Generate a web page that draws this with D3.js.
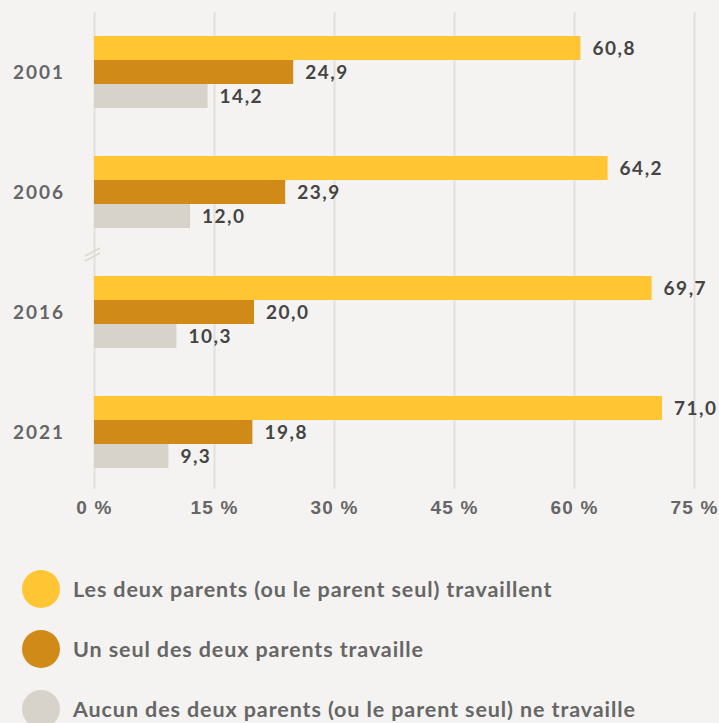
<!DOCTYPE html>
<html>
<head>
<meta charset="utf-8">
<script src="https://cdn.jsdelivr.net/npm/d3@7"></script>
<style>
  body { margin: 0; background: #f4f3f1; }
  svg { display: block; font-family: Lato, "Open Sans", sans-serif; }
  .grid line { stroke: #e4e0da; stroke-width: 2; }
  .grid path { display: none; }
  .axis path, .axis line { display: none; }
  .axis text { fill: #666; font-size: 19px; font-weight: 700; letter-spacing: 1.2px; }
  .year { fill: #666; font-size: 19px; font-weight: 700; letter-spacing: 2px; }
  .value { fill: #444; font-size: 19px; font-weight: 700; letter-spacing: 1.5px; }
  .legend-label { fill: #666; font-size: 21.5px; font-weight: 700; letter-spacing: 0.9px; }
</style>
</head>
<body>
<div class="container"></div>
<script>
const years = ["2001", "2006", "2016", "2021"];
const seriesNames = [
  "Les deux parents (ou le parent seul) travaillent",
  "Un seul des deux parents travaille",
  "Aucun des deux parents (ou le parent seul) ne travaille"
];
const seriesColors = ["#ffc533", "#d08a17", "#d8d3ca"];
const bothWork = [60.8, 64.2, 69.7, 71.0];
const oneWorks = [24.9, 23.9, 20.0, 19.8];
const noneWork = [14.2, 12.0, 10.3, 9.3];
const xTicks = [0, 15, 30, 45, 60, 75];

const seriesValues = [bothWork, oneWorks, noneWork];
const width = 719, height = 723;
const plotLeft = 94, plotRight = 694, plotTop = 12, plotBottom = 492;

const svg = d3.select(".container")
              .append("svg")
              .attr("width", width)
              .attr("height", height);

const x = d3.scaleLinear()
            .domain([0, 75])
            .range([plotLeft, plotRight]);

const y = d3.scaleBand()
            .domain(years)
            .range([plotTop, plotBottom])
            .paddingInner(0.4)
            .paddingOuter(0.2);

const ySub = d3.scaleBand()
               .domain(d3.range(seriesNames.length))
               .range([0, y.bandwidth()]);

// vertical gridlines
svg.append("g")
   .attr("class", "grid")
   .attr("transform", `translate(0,${plotTop})`)
   .call(d3.axisBottom(x)
           .tickValues(xTicks)
           .tickSize(plotBottom - plotTop - 3)
           .tickFormat(""));

// bars
const groups = svg.selectAll(".year-group")
                  .data(years)
                  .join("g")
                  .attr("class", "year-group")
                  .attr("transform", d => `translate(0,${y(d)})`);

groups.selectAll("rect")
      .data((d, i) => seriesValues.map((vals, s) => ({s, v: vals[i]})))
      .join("rect")
      .attr("x", x(0))
      .attr("y", d => ySub(d.s))
      .attr("width", d => x(d.v) - x(0))
      .attr("height", ySub.bandwidth())
      .attr("fill", d => seriesColors[d.s]);

groups.selectAll(".value")
      .data((d, i) => seriesValues.map((vals, s) => ({s, v: vals[i]})))
      .join("text")
      .attr("class", "value")
      .attr("x", d => x(d.v) + 12)
      .attr("y", d => ySub(d.s) + ySub.bandwidth() / 2)
      .attr("dy", "0.35em")
      .text(d => d.v.toFixed(1).replace(".", ","));

groups.append("text")
      .attr("class", "year")
      .attr("x", 65)
      .attr("y", y.bandwidth() / 2)
      .attr("dy", "0.35em")
      .attr("text-anchor", "end")
      .text(d => d);

// axis break mark between 2006 and 2016
const breakY = (y("2006") + y.bandwidth() + y("2016")) / 2 - 2;
[0, 5].forEach(off => {
  svg.append("line")
     .attr("x1", x(0) - 9)
     .attr("y1", breakY + 6 + off)
     .attr("x2", x(0) + 6)
     .attr("y2", breakY - 2 + off)
     .attr("stroke", "#ddd8d0")
     .attr("stroke-width", 1.5);
});

// x axis labels
svg.append("g")
   .attr("class", "axis")
   .attr("transform", `translate(0,${plotBottom + 15})`)
   .call(d3.axisBottom(x)
           .tickValues(xTicks)
           .tickSize(0)
           .tickPadding(0)
           .tickFormat(d => d + " %"))
   .selectAll("text")
   .attr("dy", "0.35em");

// legend
const legend = svg.selectAll(".legend")
                  .data(seriesNames)
                  .join("g")
                  .attr("class", "legend")
                  .attr("transform", (d, i) => `translate(41,${589 + i * 60})`);

legend.append("circle")
      .attr("r", 19)
      .attr("fill", (d, i) => seriesColors[i]);

legend.append("text")
      .attr("class", "legend-label")
      .attr("x", 32)
      .attr("dy", "0.35em")
      .text(d => d);
</script>
</body>
</html>
